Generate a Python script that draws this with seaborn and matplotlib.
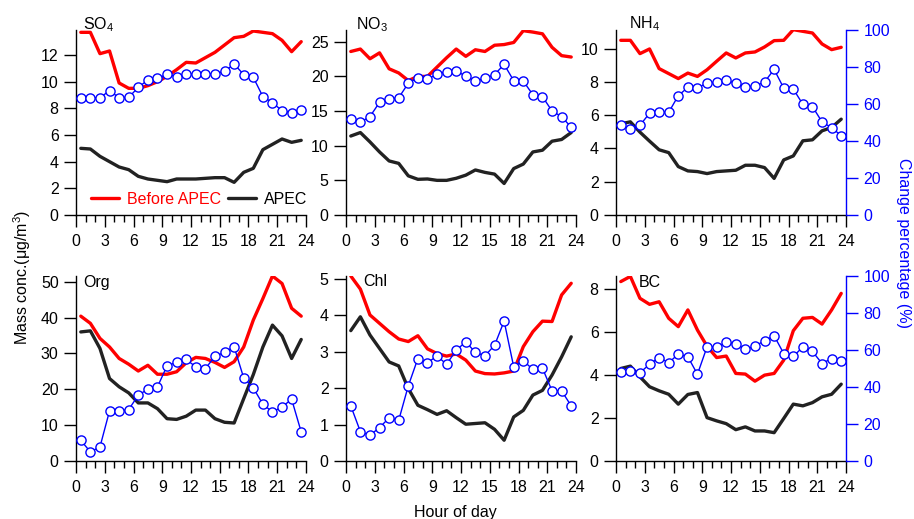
import matplotlib
matplotlib.use("Agg")
import matplotlib.pyplot as plt
from matplotlib.lines import Line2D
from matplotlib.ticker import MultipleLocator
import seaborn as sns

# ---------------- data ----------------
hours = [0.5, 1.5, 2.5, 3.5, 4.5, 5.5, 6.5, 7.5, 8.5, 9.5, 10.5, 11.5,
         12.5, 13.5, 14.5, 15.5, 16.5, 17.5, 18.5, 19.5, 20.5, 21.5, 22.5, 23.5]

so4_before = [13.7, 13.7, 12.1, 12.3, 9.9, 9.5, 9.5, 9.7, 10.0, 10.4, 10.9, 11.45,
              11.4, 11.8, 12.2, 12.75, 13.3, 13.4, 13.8, 13.7, 13.6, 13.1, 12.25, 13.0]
so4_apec = [5.0, 4.95, 4.4, 4.0, 3.6, 3.4, 2.9, 2.7, 2.6, 2.5, 2.7, 2.7,
            2.7, 2.75, 2.8, 2.8, 2.45, 3.2, 3.5, 4.9, 5.3, 5.7, 5.45, 5.6]
so4_pct = [63.4, 63.4, 63.4, 67.2, 63.4, 63.6, 69.0, 73.0, 73.9, 76.0, 74.8, 76.2,
           76.2, 76.2, 76.4, 77.7, 81.6, 75.9, 74.4, 64.0, 60.7, 56.4, 55.3, 56.8]

no3_before = [23.6, 23.95, 22.55, 23.4, 21.1, 20.5, 19.4, 20.0, 20.0, 21.35, 22.7, 23.95,
              22.9, 23.85, 23.6, 24.5, 24.6, 24.9, 26.6, 26.4, 26.15, 24.2, 23.0, 22.8]
no3_apec = [11.4, 11.9, 10.55, 9.1, 7.8, 7.45, 5.65, 5.15, 5.2, 5.0, 5.0, 5.3,
            5.75, 6.5, 6.15, 5.9, 4.55, 6.7, 7.35, 9.1, 9.35, 10.65, 10.9, 11.9]
no3_pct = [51.9, 50.1, 53.2, 60.9, 62.7, 63.4, 71.2, 74.2, 73.3, 76.2, 77.5, 77.8,
           75.1, 72.4, 73.9, 75.9, 81.4, 72.6, 72.4, 65.0, 64.0, 56.2, 53.2, 47.4]

nh4_before = [10.5, 10.5, 9.7, 9.98, 8.8, 8.5, 8.2, 8.53, 8.33, 8.73, 9.24, 9.74,
              9.44, 9.74, 9.8, 10.1, 10.48, 10.5, 11.14, 11.04, 10.94, 10.28, 9.94, 10.08]
nh4_apec = [5.48, 5.6, 4.98, 4.44, 3.92, 3.75, 2.91, 2.65, 2.61, 2.49, 2.61, 2.65,
            2.69, 2.99, 2.99, 2.85, 2.2, 3.31, 3.55, 4.46, 4.52, 5.06, 5.26, 5.76]
nh4_pct = [48.6, 46.3, 48.5, 55.0, 55.5, 55.5, 64.5, 69.0, 68.5, 71.5, 71.7, 72.8,
           71.2, 69.4, 69.7, 71.9, 78.7, 68.6, 68.1, 59.8, 58.6, 50.3, 47.2, 42.9]

org_before = [40.4, 38.4, 34.2, 31.8, 28.6, 27.0, 25.1, 26.7, 24.2, 24.2, 24.9, 27.4,
              28.9, 28.6, 27.5, 26.1, 27.7, 31.8, 39.3, 45.3, 51.6, 49.5, 42.6, 40.4]
org_apec = [36.0, 36.3, 31.4, 23.0, 20.7, 19.0, 16.2, 16.2, 14.6, 11.8, 11.6, 12.5,
            14.2, 14.2, 11.8, 10.8, 10.6, 17.4, 24.1, 31.8, 37.9, 34.9, 28.6, 33.9]
org_pct = [11.2, 4.9, 7.6, 27.1, 27.1, 27.8, 35.6, 38.8, 40.1, 51.4, 53.4, 54.9,
           50.9, 50.0, 56.5, 58.8, 61.7, 44.9, 39.5, 30.7, 26.5, 29.2, 33.4, 15.7]

chl_before = [5.08, 4.72, 4.01, 3.78, 3.55, 3.35, 3.28, 3.44, 3.08, 2.95, 2.88, 2.94,
              2.77, 2.47, 2.40, 2.39, 2.42, 2.47, 3.14, 3.55, 3.84, 3.83, 4.56, 4.88]
chl_apec = [3.58, 3.96, 3.46, 3.09, 2.72, 2.61, 1.99, 1.53, 1.41, 1.28, 1.38, 1.19,
            1.01, 1.03, 1.05, 0.87, 0.57, 1.21, 1.39, 1.81, 1.94, 2.36, 2.86, 3.41]
chl_pct = [29.8, 15.9, 13.9, 18.1, 23.3, 22.0, 40.6, 55.4, 53.2, 56.7, 52.3, 59.9,
           64.4, 58.7, 56.9, 62.5, 75.6, 50.9, 54.2, 49.5, 50.2, 37.9, 37.9, 29.8]

bc_before = [8.36, 8.6, 7.58, 7.3, 7.42, 6.65, 6.26, 7.04, 6.1, 5.35, 4.82, 4.89,
             4.08, 4.05, 3.72, 4.0, 4.08, 4.7, 6.07, 6.65, 6.69, 6.38, 7.04, 7.81]
bc_apec = [4.31, 4.42, 3.92, 3.46, 3.27, 3.11, 2.65, 3.1, 3.19, 2.02, 1.87, 1.74,
           1.46, 1.59, 1.40, 1.40, 1.32, 1.98, 2.65, 2.57, 2.72, 2.99, 3.11, 3.58]
bc_pct = [48.2, 48.7, 47.7, 52.3, 55.9, 53.1, 57.8, 56.3, 46.9, 61.7, 61.4, 64.1,
          63.5, 60.3, 62.1, 65.0, 67.7, 58.1, 56.5, 61.7, 59.2, 52.7, 55.4, 54.0]

species = ["SO$_4$", "NO$_3$", "NH$_4$", "Org", "Chl", "BC"]
x_ticks = [0, 3, 6, 9, 12, 15, 18, 21, 24]
pct_ticks = [0, 20, 40, 60, 80, 100]
legend_labels = ["Before APEC", "APEC"]
xlabel = "Hour of day"
ylabel_left = "Mass conc.(\u03bcg/m$^3$)"
ylabel_right = "Change percentage (%)"

# ---------------- style ----------------
sns.set_style("ticks")
plt.rcParams["font.family"] = ["Liberation Sans", "DejaVu Sans"]
plt.rcParams["mathtext.default"] = "regular"
plt.rcParams["text.color"] = "black"
plt.rcParams["axes.labelcolor"] = "black"
plt.rcParams["xtick.color"] = "black"
plt.rcParams["ytick.color"] = "black"
FS = 11.5
RED = "#ff0000"
BLACK = "#222222"
BLUE = "#0000ff"

W, H = 914, 519
fig = plt.figure(figsize=(W / 100, H / 100), dpi=100)


def px_axes(left, top, right, bottom):
    return [left / W, 1 - bottom / H, (right - left) / W, (bottom - top) / H]


panels = [
    (so4_before, so4_apec, so4_pct, 13.875, 2, (76, 30, 306, 215), (83, 29)),
    (no3_before, no3_apec, no3_pct, 26.7, 5, (346, 30, 576, 215), (356, 29)),
    (nh4_before, nh4_apec, nh4_pct, 11.12, 2, (616, 30, 846, 215), (629, 28.5)),
    (org_before, org_apec, org_pct, 51.6, 10, (76, 276, 306, 461), (83, 287)),
    (chl_before, chl_apec, chl_pct, 5.08, 1, (346, 276, 576, 461), (363, 285.5)),
    (bc_before, bc_apec, bc_pct, 8.62, 2, (616, 276, 846, 461), (639, 287)),
]

for i, (before, apec, pct, ytop, ystep, box, tpos) in enumerate(panels):
    ax = fig.add_axes(px_axes(*box))
    ax.set_facecolor("none")
    sns.lineplot(x=hours, y=before, ax=ax, color=RED, linewidth=2.4)
    sns.lineplot(x=hours, y=apec, ax=ax, color=BLACK, linewidth=2.4)
    ax.set_xlim(0, 24)
    ax.set_ylim(0, ytop)
    ax.set_xticks(x_ticks)
    ax.xaxis.set_minor_locator(MultipleLocator(1))
    ax.yaxis.set_major_locator(MultipleLocator(ystep))
    ax.set_xlabel("")
    ax.set_ylabel("")
    for s in ("top", "right"):
        ax.spines[s].set_visible(False)
    for s in ("left", "bottom"):
        ax.spines[s].set_linewidth(1.0)
        ax.spines[s].set_color("black")
    ax.tick_params(axis="both", which="major", direction="out", length=8.5,
                   width=1.0, labelsize=FS, color="black", labelcolor="black", pad=4)
    ax.tick_params(axis="x", which="minor", direction="out", length=4.8, width=1.0, color="black")
    ax.tick_params(axis="x", which="major", pad=5)

    ax2 = ax.twinx()
    sns.lineplot(x=hours, y=pct, ax=ax2, color=BLUE, linewidth=1.0, marker="o",
                 markersize=6.6, markerfacecolor="white", markeredgecolor=BLUE,
                 markeredgewidth=1.0)
    ax2.set_ylim(0, 100)
    ax2.set_xlim(0, 24)
    ax2.set_ylabel("")
    for s in ("top", "left", "bottom"):
        ax2.spines[s].set_visible(False)
    if i % 3 == 2:
        ax2.spines["right"].set_color(BLUE)
        ax2.spines["right"].set_linewidth(1.0)
        ax2.set_yticks(pct_ticks)
        ax2.tick_params(axis="y", which="major", direction="out", length=8.5, width=1.0,
                        labelsize=FS, colors=BLUE, pad=4)
    else:
        ax2.spines["right"].set_visible(False)
        ax2.tick_params(axis="y", right=False, labelright=False)

    fig.text(tpos[0] / W, 1 - tpos[1] / H, species[i], fontsize=FS, ha="left",
             va="baseline", color="black")

    if i == 0:
        handles = [Line2D([], [], color=RED, linewidth=2.4),
                   Line2D([], [], color=BLACK, linewidth=2.4)]
        ax.legend(handles, legend_labels, loc="center left",
                  bbox_to_anchor=((91 - 76) / 230, (215 - 199) / 185),
                  ncol=2, frameon=False, fontsize=FS, borderpad=0, borderaxespad=0,
                  handlelength=1.75, handletextpad=0.5, columnspacing=0.45,
                  labelcolor=[RED, "black"])

fig.text(22 / W, 1 - 277 / H, ylabel_left, rotation=90, ha="center", va="center",
         fontsize=FS, color="black")
fig.text(904 / W, 1 - 243 / H, ylabel_right, rotation=-90, ha="center", va="center",
         fontsize=FS, color=BLUE)
fig.text(455 / W, 1 - 516.5 / H, xlabel, ha="center", va="baseline", fontsize=FS,
         color="black")

fig.savefig("out.png", dpi=100)
